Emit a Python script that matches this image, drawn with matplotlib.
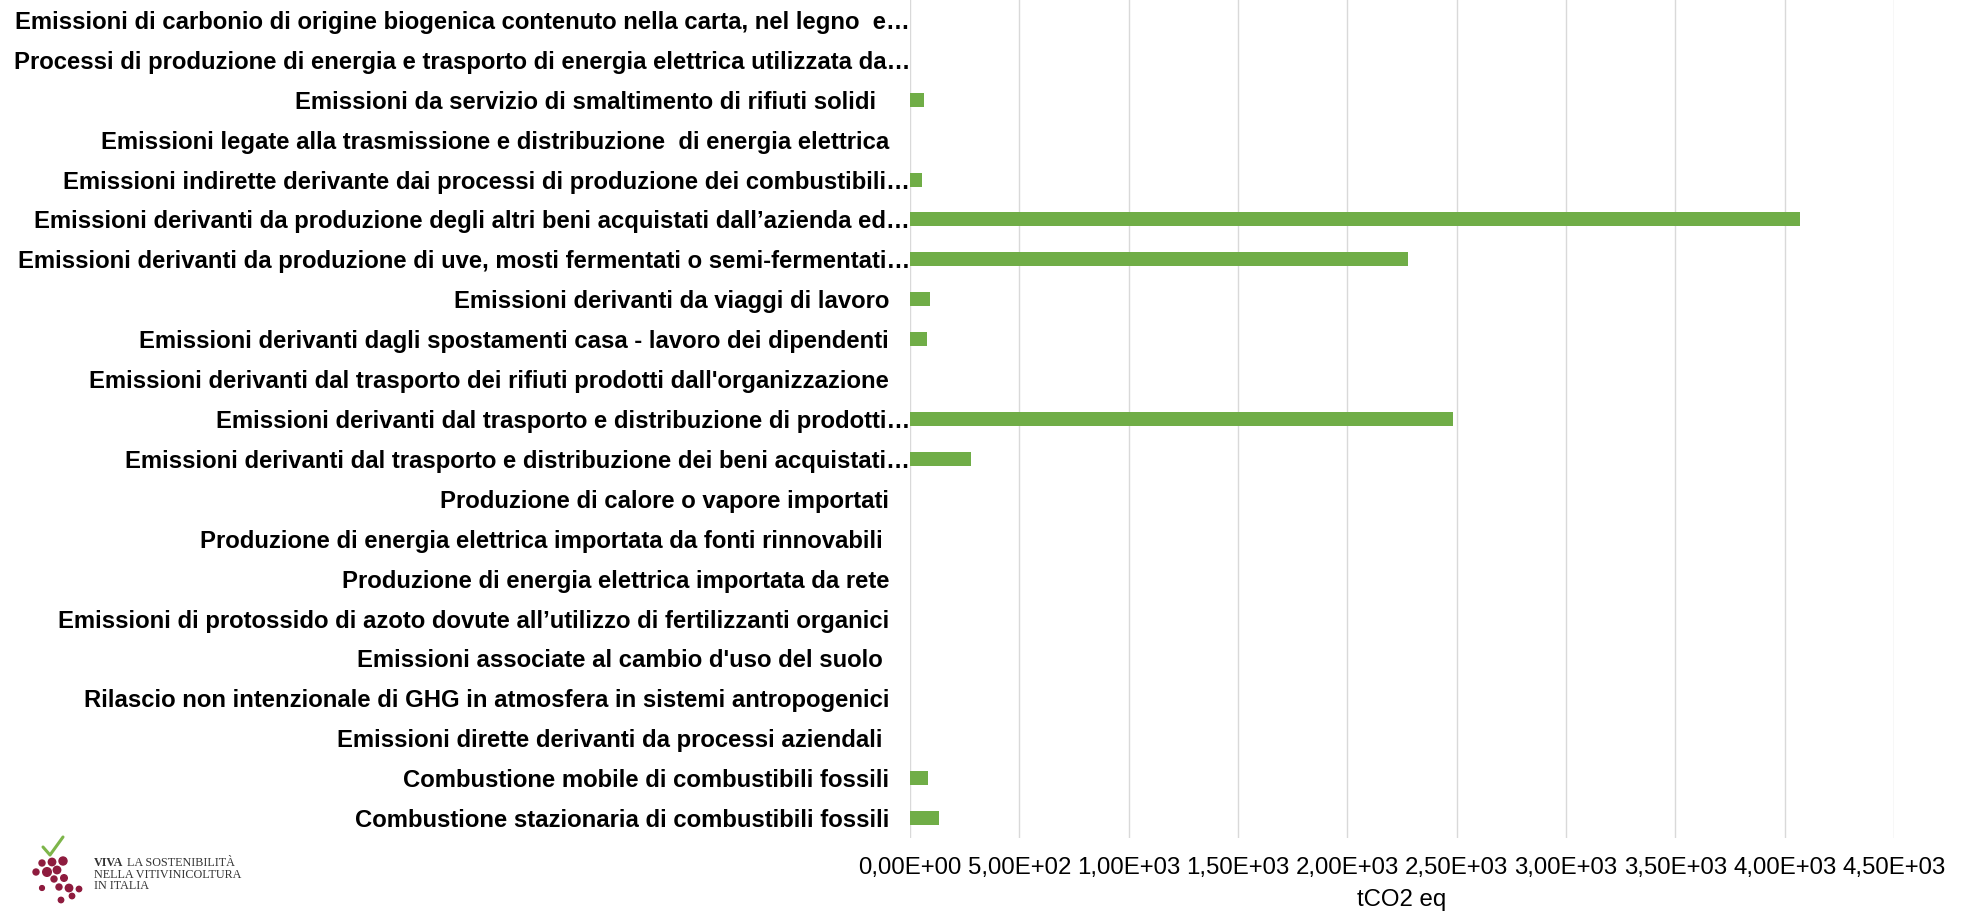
import matplotlib.pyplot as plt
from matplotlib.patches import Circle
import numpy as np

plt.rcParams['font.family'] = ['Liberation Sans', 'DejaVu Sans']

# categories from bottom to top, as in the chart
categories = [
    "Combustione stazionaria di combustibili fossili",
    "Combustione mobile di combustibili fossili",
    "Emissioni dirette derivanti da processi aziendali ",
    "Rilascio non intenzionale di GHG in atmosfera in sistemi antropogenici",
    "Emissioni associate al cambio d'uso del suolo ",
    "Emissioni di protossido di azoto dovute all\u2019utilizzo di fertilizzanti organici",
    "Produzione di energia elettrica importata da rete",
    "Produzione di energia elettrica importata da fonti rinnovabili ",
    "Produzione di calore o vapore importati",
    "Emissioni derivanti dal trasporto e distribuzione dei beni acquistati\u2026",
    "Emissioni derivanti dal trasporto e distribuzione di prodotti\u2026",
    "Emissioni derivanti dal trasporto dei rifiuti prodotti dall'organizzazione",
    "Emissioni derivanti dagli spostamenti casa - lavoro dei dipendenti",
    "Emissioni derivanti da viaggi di lavoro",
    "Emissioni derivanti da produzione di uve, mosti fermentati o semi-fermentati\u2026",
    "Emissioni derivanti da produzione degli altri beni acquistati dall\u2019azienda ed\u2026",
    "Emissioni indirette derivante dai processi di produzione dei combustibili\u2026",
    "Emissioni legate alla trasmissione e distribuzione  di energia elettrica",
    "Emissioni da servizio di smaltimento di rifiuti solidi  ",
    "Processi di produzione di energia e trasporto di energia elettrica utilizzata da\u2026",
    "Emissioni di carbonio di origine biogenica contenuto nella carta, nel legno  e\u2026",
]
values = [131, 82, 0, 0, 0, 0, 0, 0, 0, 281, 2485, 0, 76, 91, 2276, 4070, 56, 0, 63, 0, 0]

x_ticks = np.arange(0, 4501, 500)
x_label = "tCO2 eq"
bar_color = "#70AD47"
grid_color = "#D9D9D9"


def sci_it(v):
    # Excel style 0,00E+00 with decimal comma
    return f"{v:.2E}".replace(".", ",")


fig = plt.figure(figsize=(19.64, 9.17), dpi=100)
ax = fig.add_axes([910 / 1964, 1 - 838 / 917, (1894 - 910) / 1964, 838 / 917])

y = np.arange(len(categories))
ax.barh(y, values, height=0.35, color=bar_color, zorder=3)

ax.set_xlim(0, 4500)
ax.set_ylim(-0.5, len(categories) - 0.5)
ax.set_xticks(x_ticks)
ax.set_xticklabels([sci_it(v) for v in x_ticks], fontsize=17.3)
ax.set_yticks(y)
ax.set_yticklabels(categories, fontsize=17.2, fontweight='bold')
ax.tick_params(axis='both', length=0)
ax.tick_params(axis='x', pad=13.5)
ax.tick_params(axis='y', pad=15)

# truncated labels sit right against the axis
for tick, cat in zip(ax.yaxis.get_major_ticks(), categories):
    if cat.endswith("\u2026"):
        tick.set_pad(0)

ax.grid(axis='x', color=grid_color, linewidth=1.0, zorder=0)
for s in ax.spines.values():
    s.set_visible(False)

ax.set_xlabel(x_label, fontsize=17.3)
ax.xaxis.set_label_coords(0.5, -(900 - 838) / 838)
ax.xaxis.label.set_va('center')

# logo in the bottom-left corner
logo = fig.add_axes([0, 0, 260 / 1964, 97 / 917])
logo.set_xlim(0, 260)
logo.set_ylim(97, 0)
logo.axis('off')
grapes = [(42, 43, 3.0), (52, 42, 3.7), (63, 41, 4.0), (36, 52, 3.0), (47, 52, 4.3),
          (57, 50, 3.7), (54, 59, 3.0), (64, 58, 3.3), (42, 68, 2.4), (59, 67, 3.0),
          (69, 68, 3.7), (79, 69, 2.7), (72, 76, 2.7), (61, 80, 2.7)]
for gx, gy, r in grapes:
    logo.add_patch(Circle((gx, gy), r, color="#8E1B3E"))
logo.plot([43, 50, 63], [27, 35, 17], color="#7DB54A", linewidth=2.2, solid_capstyle='round')
serif = dict(fontsize=8.7, family='Liberation Serif', color="#333333", va='center')
viva = logo.text(94, 43, "VIVA", fontweight='bold', **serif)
logo.annotate("LA SOSTENIBILIT\u00c0", xy=(1, 0.5), xycoords=viva,
              xytext=(2.5, 0), textcoords='offset points', **serif)
logo.text(94, 55, "NELLA VITIVINICOLTURA", **serif)
logo.text(94, 66, "IN ITALIA", **serif)

fig.savefig("out.png", dpi=100)
